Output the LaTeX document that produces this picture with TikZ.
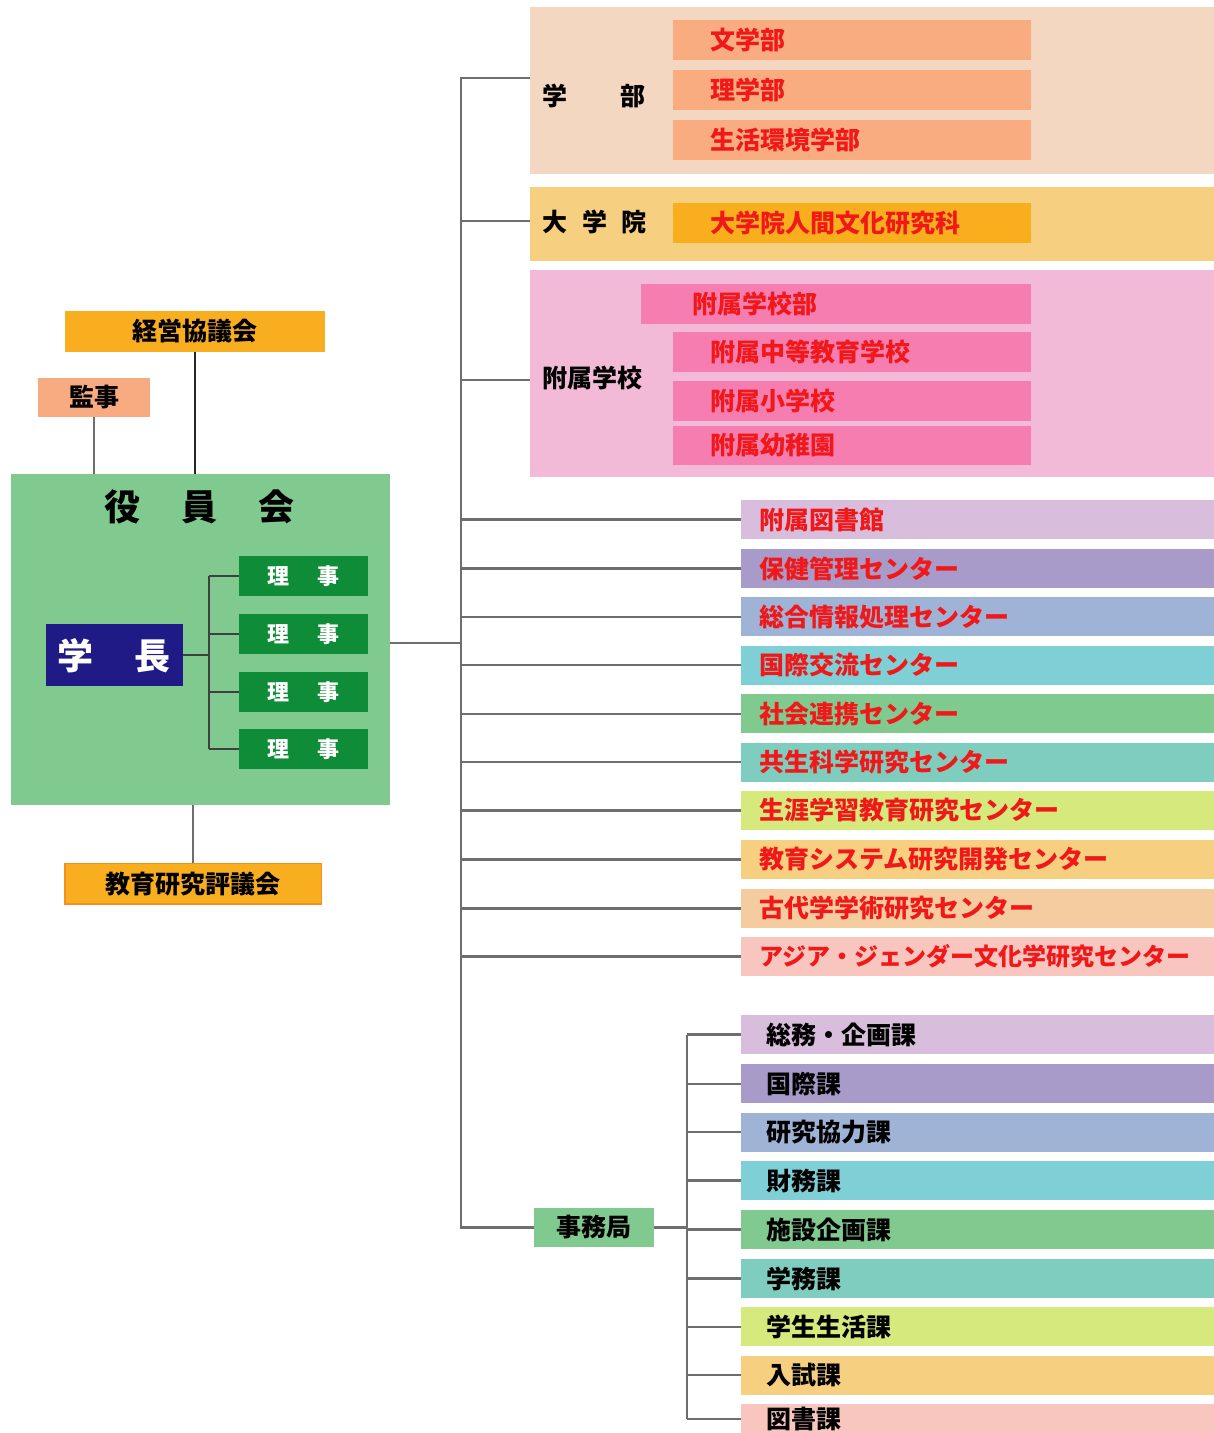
\documentclass[tikz,border=0pt]{standalone}
\usepackage{fontspec}
\setmainfont{Noto Sans CJK JP}
\definecolor{txtred}{HTML}{F01818}
\definecolor{conn}{HTML}{6E6E6E}
\definecolor{gakuBg}{HTML}{F3D7C0}
\definecolor{gakuIn}{HTML}{F8AC80}
\definecolor{inBg}{HTML}{F6CF80}
\definecolor{inIn}{HTML}{F9AE1E}
\definecolor{fuBg}{HTML}{F2BAD6}
\definecolor{fuIn}{HTML}{F57DB0}
\definecolor{cA}{HTML}{D9BDDD}
\definecolor{cB}{HTML}{A89BCA}
\definecolor{cC}{HTML}{9FB3D6}
\definecolor{cD}{HTML}{7FCFD6}
\definecolor{cE}{HTML}{80CA90}
\definecolor{cF}{HTML}{7FCDBE}
\definecolor{cG}{HTML}{D5E97C}
\definecolor{cH}{HTML}{F6CF80}
\definecolor{cI}{HTML}{F5CC9F}
\definecolor{cJ}{HTML}{F8C5BF}
\definecolor{orangeBox}{HTML}{F9AE1F}
\definecolor{orangeEdge}{HTML}{F39020}
\definecolor{salmon}{HTML}{F8AA80}
\definecolor{rijiGreen}{HTML}{0E8C38}
\definecolor{navy}{HTML}{1F1A85}
\newcommand\ftxt{\bfseries\fontsize{25}{29}\selectfont}
\newcommand\fnarrow{\bfseries\fontsize{24}{28}\selectfont}
\newcommand\fbig{\bfseries\fontsize{36}{40}\selectfont}
\newcommand\fsmall{\bfseries\fontsize{22}{26}\selectfont}
\begin{document}
\begin{tikzpicture}[x=1pt,y=-1pt,
  bg/.style={fill=#1, anchor=north west, inner sep=0, outer sep=0},
  cband/.style={fill=#1, anchor=north west, minimum height=39, text width=436,
    inner xsep=18.5, inner ysep=0, outer sep=0, align=left, font=\ftxt, text=txtred},
  oband/.style={fill=#1, anchor=north west, minimum height=39, text width=421.4,
    inner xsep=25.8, inner ysep=0, outer sep=0, align=left, font=\ftxt, text=black},
  iband/.style={fill=#1, anchor=north west, minimum height=40, text width=282.3,
    inner xsep=38, inner ysep=0, outer sep=0, align=left, font=\ftxt, text=txtred},
  lbl/.style={anchor=west, inner sep=0, font=\ftxt, text=black},
  cbox/.style={fill=#1, inner sep=0, outer sep=0, font=\ftxt, text=black},
  riji/.style={fill=rijiGreen, anchor=north west, minimum width=128.4, minimum height=40,
    inner sep=0, outer sep=0, font=\fsmall, text=white},
  trunkline/.style={draw=conn, line width=2.2pt},
  thinline/.style={draw=black!85, line width=1.3pt},
  bracket/.style={draw=black!75, line width=2.2pt}
]
\useasboundingbox (0,0) rectangle (1214,1433);
\clip (0,0) rectangle (1214,1433);

% ---------- right groups ----------
\node[bg=gakuBg, minimum width=684, minimum height=166.5] (gakubu) at (530,7) {};
\node[lbl] (gakubuL) at (542.6,95.7) {学\hspace{53pt}部};
\node[iband=gakuIn] (bun) at (672.7,20) {文学部};
\node[iband=gakuIn] (ri) at (672.7,70) {理学部};
\node[iband=gakuIn] (seikatsu) at (672.7,120) {生活環境学部};

\node[bg=inBg, minimum width=684, minimum height=74] (daigakuin) at (530,186.7) {};
\node[lbl] (daigakuinL) at (542.6,222) {大\hspace{15pt}学\hspace{14pt}院};
\node[iband=inIn] (ningen) at (672.7,203) {大学院人間文化研究科};

\node[bg=fuBg, minimum width=684, minimum height=206.7] (fuzoku) at (530,270) {};
\node[lbl] (fuzokuL) at (542.6,378) {附属学校};
\node[iband=fuIn, text width=288, inner xsep=51] (gakkobu) at (641,284.3) {附属学校部};
\node[iband=fuIn] (chuto) at (672.7,331.7) {附属中等教育学校};
\node[iband=fuIn] (sho) at (672.7,380.7) {附属小学校};
\node[iband=fuIn, minimum height=39] (yochien) at (672.7,425.7) {附属幼稚園};

% ---------- centers ----------
\node[cband=cA] (c1) at (741,500) {附属図書館};
\node[cband=cB] (c2) at (741,549) {保健管理センター};
\node[cband=cC] (c3) at (741,597.3) {総合情報処理センター};
\node[cband=cD] (c4) at (741,645.7) {国際交流センター};
\node[cband=cE] (c5) at (741,694.3) {社会連携センター};
\node[cband=cF] (c6) at (741,742.7) {共生科学研究センター};
\node[cband=cG] (c7) at (741,791) {生涯学習教育研究センター};
\node[cband=cH] (c8) at (741,840) {教育システム研究開発センター};
\node[cband=cI] (c9) at (741,889) {古代学学術研究センター};
\node[cband=cJ, font=\fnarrow] (c10) at (741,937) {アジア・ジェンダー文化学研究センター};

% ---------- offices ----------
\node[cbox=cE, minimum width=119.4, minimum height=39, anchor=north west] (jimu) at (534.3,1208) {事務局};
\node[oband=cA] (o1) at (741,1015) {総務・企画課};
\node[oband=cB] (o2) at (741,1064.3) {国際課};
\node[oband=cC] (o3) at (741,1112.7) {研究協力課};
\node[oband=cD] (o4) at (741,1161) {財務課};
\node[oband=cE] (o5) at (741,1210) {施設企画課};
\node[oband=cF] (o6) at (741,1259) {学務課};
\node[oband=cG] (o7) at (741,1307.3) {学生生活課};
\node[oband=cH] (o8) at (741,1355.7) {入試課};
\node[oband=cJ, minimum height=28.7] (o9) at (741,1404.3) {図書課};

% ---------- left side ----------
\node[cbox=orangeBox, minimum width=260, minimum height=41, anchor=north west] (keiei) at (65,310.7) {経営協議会};
\node[cbox=salmon, minimum width=111.7, minimum height=39.6, anchor=north west] (kanji) at (38.3,377.7) {監事};
\node[bg=cE, minimum width=379, minimum height=331] (yakuin) at (11,474) {};
\node[anchor=center, inner sep=0, font=\fbig, text=black] (yakuinL) at (199.5,507) {役\hspace{42pt}員\hspace{41pt}会};
\node[fill=navy, anchor=north west, minimum width=137, minimum height=61.7, inner sep=0, outer sep=0] (gakucho) at (45.7,624.3) {};
\node[anchor=center, inner sep=0, font=\fbig, text=white] (gakuchoL) at (114,655.5) {学\hspace{41pt}長};
\node[riji] (r1) at (239.3,556) {理\hspace{29pt}事};
\node[riji] (r2) at (239.3,614) {理\hspace{29pt}事};
\node[riji] (r3) at (239.3,671.7) {理\hspace{29pt}事};
\node[riji] (r4) at (239.3,729.3) {理\hspace{29pt}事};
\node[cbox=orangeBox, draw=orangeEdge, line width=1.5pt, minimum width=256.7, minimum height=40.7, anchor=north west] (hyogi) at (65,863.3) {教育研究評議会};

% ---------- connectors ----------
\coordinate (ttop) at (460.7,77.7);
\coordinate (tdai) at (460.7,220.7);
\coordinate (tfu) at (460.7,380);
\coordinate (tyak) at (460.7,642.7);
\coordinate (sx) at (687.3,1033.3);
\coordinate (bx) at (209,574);

\draw[trunkline] (ttop -| gakubu.west) -- (ttop) -- (ttop |- jimu.west) -- (jimu.west);
\draw[trunkline] (tdai) -- (tdai -| daigakuin.west);
\draw[trunkline] (tfu) -- (tfu -| fuzoku.west);
\foreach \n in {c1,c2,c3,c4,c5,c6,c7,c8,c9,c10}
  \draw[trunkline] (ttop |- \n.west) -- (\n.west);
\draw[trunkline] (tyak -| yakuin.east) -- (tyak);

\draw[trunkline] (jimu.east) -- (jimu.east -| sx);
\draw[trunkline] (sx |- o1.west) -- (sx |- o9.west);
\foreach \n in {o1,o2,o3,o4,o5,o6,o7,o8,o9}
  \draw[trunkline] (sx |- \n.west) -- (\n.west);

\draw[thinline] (keiei.south) -- (keiei.south |- yakuin.north);
\draw[trunkline] (kanji.south) -- (kanji.south |- yakuin.north);
\draw[trunkline] (hyogi.north) -- (hyogi.north |- yakuin.south);

\draw[bracket] (bx |- r1.west) -- (bx |- r4.west);
\foreach \n in {r1,r2,r3,r4}
  \draw[bracket] (bx |- \n.west) -- (\n.west);
\draw[bracket] (gakucho.east) -- (gakucho.east -| bx);
\end{tikzpicture}
\end{document}
